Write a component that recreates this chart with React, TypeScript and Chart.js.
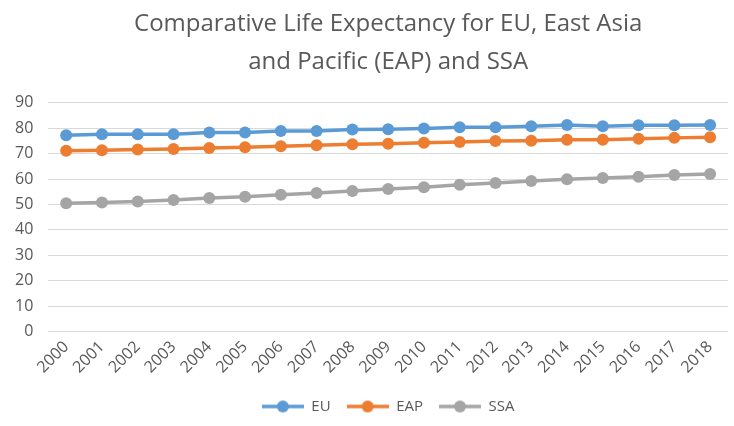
import React, { useEffect, useRef } from "react";
import { Chart, registerables } from "chart.js";

Chart.register(...registerables);

const years = ["2000","2001","2002","2003","2004","2005","2006","2007","2008","2009","2010","2011","2012","2013","2014","2015","2016","2017","2018"];
const euValues = [77.2, 77.6, 77.6, 77.6, 78.3, 78.3, 78.9, 78.9, 79.5, 79.6, 79.9, 80.4, 80.4, 80.8, 81.3, 80.8, 81.2, 81.2, 81.3];
const eapValues = [71.1, 71.3, 71.6, 71.8, 72.2, 72.5, 72.9, 73.3, 73.7, 73.9, 74.3, 74.6, 75.0, 75.1, 75.5, 75.5, 75.9, 76.2, 76.4];
const ssaValues = [50.5, 50.8, 51.2, 51.8, 52.5, 53.0, 53.8, 54.5, 55.3, 56.1, 56.8, 57.8, 58.4, 59.2, 59.9, 60.4, 60.9, 61.6, 62.0];
const seriesNames = ["EU", "EAP", "SSA"];
const seriesColors = ["#5B9BD5", "#ED7D31", "#A5A5A5"];
const titleLines = ["Comparative Life Expectancy for EU, East Asia", "and Pacific (EAP) and SSA"];

const FONT = "'Open Sans', sans-serif";
const TEXT = "#595959";

function legendIcon(color: string): HTMLCanvasElement {
  const c = document.createElement("canvas");
  c.width = 42;
  c.height = 14;
  const ctx = c.getContext("2d")!;
  ctx.strokeStyle = color;
  ctx.lineWidth = 3.5;
  ctx.beginPath();
  ctx.moveTo(0, 7);
  ctx.lineTo(42, 7);
  ctx.stroke();
  ctx.fillStyle = color;
  ctx.beginPath();
  ctx.arc(21, 7, 6, 0, Math.PI * 2);
  ctx.fill();
  return c;
}

export default function App() {
  const ref = useRef<HTMLCanvasElement | null>(null);

  useEffect(() => {
    if (!ref.current) return;
    const all = [euValues, eapValues, ssaValues];
    const icons = seriesColors.map(legendIcon);
    const chart = new Chart(ref.current, {
      type: "line",
      data: {
        labels: years,
        datasets: all.map((d, i) => ({
          label: seriesNames[i],
          data: d,
          borderColor: seriesColors[i],
          backgroundColor: seriesColors[i],
          borderWidth: 3.5,
          pointRadius: 6,
          pointHoverRadius: 6,
          pointBackgroundColor: seriesColors[i],
          pointBorderColor: seriesColors[i],
          pointBorderWidth: 0,
          tension: 0,
        })),
      },
      options: {
        animation: false,
        responsive: true,
        maintainAspectRatio: false,
        layout: { padding: { top: 5, right: 1, left: 0, bottom: 2 } },
        plugins: {
          title: {
            display: true,
            text: titleLines,
            fullSize: false,
            color: TEXT,
            font: { family: FONT, size: 24, weight: "normal", lineHeight: 1.6 },
            padding: { top: 0, bottom: 21 },
          },
          legend: {
            position: "bottom",
            fullSize: false,
            labels: {
              usePointStyle: true,
              pointStyleWidth: 42,
              color: TEXT,
              font: { family: FONT, size: 15 },
              padding: 16,
              generateLabels: (ch: any) =>
                ch.data.datasets.map((ds: any, i: number) => ({
                  text: ds.label,
                  fillStyle: seriesColors[i],
                  strokeStyle: seriesColors[i],
                  pointStyle: icons[i],
                  datasetIndex: i,
                  hidden: false,
                  fontColor: TEXT,
                  lineWidth: 0,
                })),
            },
          },
          tooltip: { enabled: false },
        },
        scales: {
          x: {
            offset: true,
            grid: { display: false, drawTicks: false },
            border: { display: false },
            ticks: {
              color: TEXT,
              font: { family: FONT, size: 16 },
              minRotation: 45,
              maxRotation: 45,
              padding: 6,
              autoSkip: false,
            },
          },
          y: {
            min: 0,
            max: 90,
            border: { display: false },
            grid: { color: "#D9D9D9", lineWidth: 1, drawTicks: false },
            ticks: {
              stepSize: 10,
              color: TEXT,
              font: { family: FONT, size: 16 },
              padding: 15,
            },
          },
        },
      },
    });
    return () => chart.destroy();
  }, []);

  return (
    <div style={{ position: "absolute", left: 0, top: 0, width: 734, height: 426, background: "#fff" }}>
      <canvas ref={ref} />
    </div>
  );
}
